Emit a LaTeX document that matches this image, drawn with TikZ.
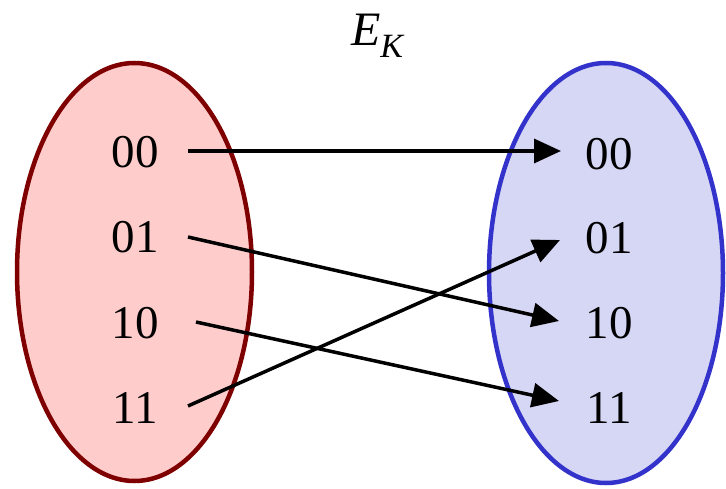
\documentclass[tikz,border=0pt]{standalone}
\usepackage{fontspec}
\setmainfont{Liberation Serif}
\usetikzlibrary{arrows.meta,shapes.geometric}
\definecolor{lfill}{HTML}{FFCCCC}
\definecolor{ldraw}{HTML}{7F0000}
\definecolor{rfill}{HTML}{D6D6F5}
\definecolor{rdraw}{HTML}{3333CC}
\begin{document}
\begin{tikzpicture}[x=1pt,y=-1pt,
  lbl/.style={font=\fontsize{47}{47}\selectfont, inner sep=0pt, anchor=center},
  conn/.style={line width=3.5pt, -{Triangle[length=27pt,width=24pt]}, shorten >=0pt}]
\useasboundingbox (0,0) rectangle (726,489);
\node[ellipse, draw=ldraw, fill=lfill, line width=4.5pt, minimum width=235pt, minimum height=418pt, inner sep=0pt] (L) at (134.5,272) {};
\node[ellipse, draw=rdraw, fill=rfill, line width=4.5pt, minimum width=234pt, minimum height=420pt, inner sep=0pt] (R) at (606,273) {};
\node[font=\fontsize{48}{48}\selectfont\itshape, inner sep=0pt] (EK) at (377,36) {E\raisebox{-0.25em}{\fontsize{34}{34}\selectfont K}};
\node[lbl] (a0) at (135,152) {00};
\node[lbl] (a1) at (135,237) {01};
\node[lbl] (a2) at (135,323) {10};
\node[lbl] (a3) at (135,408) {11};
\node[lbl] (b0) at (609,154) {00};
\node[lbl] (b1) at (609,238) {01};
\node[lbl] (b2) at (609,323) {10};
\node[lbl] (b3) at (609,408) {11};
\coordinate (s0) at (188,151); \coordinate (e0) at (561,151);
\coordinate (s1) at (188,237); \coordinate (e1) at (559,321);
\coordinate (s2) at (196,322); \coordinate (e2) at (559,401);
\coordinate (s3) at (188,406); \coordinate (e3) at (560,240);
\draw[conn] (s0) -- (e0);
\draw[conn] (s1) -- (e1);
\draw[conn] (s2) -- (e2);
\draw[conn] (s3) -- (e3);
\end{tikzpicture}
\end{document}
